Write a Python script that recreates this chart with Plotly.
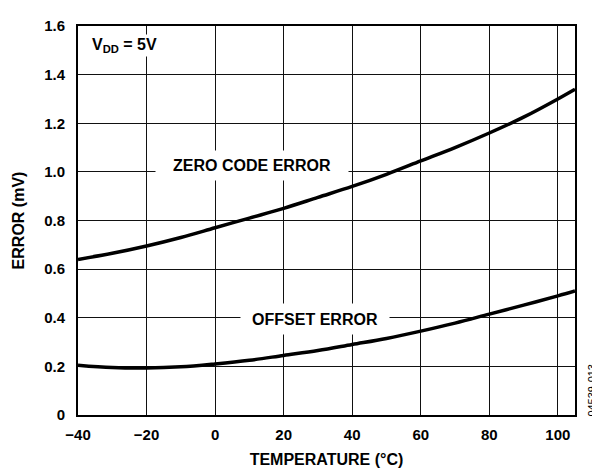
import plotly.graph_objects as go

temp = [-40, -30, -20, -10, 0, 10, 20, 30, 40, 50, 60, 70, 80, 90, 100, 105]
zero_code_error = [0.64, 0.665, 0.695, 0.73, 0.77, 0.81, 0.85, 0.895, 0.94, 0.99, 1.045, 1.10, 1.16, 1.225, 1.30, 1.34]
offset_error = [0.205, 0.195, 0.193, 0.198, 0.21, 0.225, 0.245, 0.265, 0.29, 0.315, 0.345, 0.378, 0.415, 0.452, 0.49, 0.51]

x_ticks = [-40, -20, 0, 20, 40, 60, 80, 100]
x_labels = ["\u221240", "\u221220", "0", "20", "40", "60", "80", "100"]
y_ticks = [0, 0.2, 0.4, 0.6, 0.8, 1.0, 1.2, 1.4, 1.6]
y_labels = ["0", "0.2", "0.4", "0.6", "0.8", "1.0", "1.2", "1.4", "1.6"]

font = "Liberation Sans, Arial, sans-serif"
tickfont = dict(size=15, family=font, color="black", weight="bold")

fig = go.Figure()
fig.add_trace(go.Scatter(x=temp, y=zero_code_error, mode="lines",
                         line=dict(color="black", width=3.5, shape="spline"),
                         showlegend=False))
fig.add_trace(go.Scatter(x=temp, y=offset_error, mode="lines",
                         line=dict(color="black", width=3.5, shape="spline"),
                         showlegend=False))

fig.update_layout(
    width=592, height=467,
    margin=dict(l=61, r=25, t=9, b=55),
    paper_bgcolor="white", plot_bgcolor="white",
    font=dict(family=font, color="black", size=15),
    xaxis=dict(range=[-40, 105], tickvals=x_ticks, ticktext=x_labels,
               showgrid=True, gridcolor="#111", gridwidth=1,
               showline=True, linecolor="black", linewidth=2, mirror=True,
               zeroline=False, ticks="outside", ticklen=5, tickcolor="rgba(0,0,0,0)",
               tickfont=tickfont,
               title=dict(text="<b>TEMPERATURE (°C)</b>", font=dict(size=16), standoff=12)),
    yaxis=dict(range=[0, 1.6], tickvals=y_ticks, ticktext=y_labels,
               showgrid=True, gridcolor="#111", gridwidth=1,
               showline=True, linecolor="black", linewidth=2, mirror=True,
               zeroline=False, ticks="outside", ticklen=8, tickcolor="rgba(0,0,0,0)",
               tickfont=tickfont,
               title=dict(text="<b>ERROR (mV)</b>", font=dict(size=16), standoff=16)),
)

fig.add_annotation(x=10.7, y=1.025, xref="x", yref="y", text="<b>ZERO CODE ERROR</b>",
                   showarrow=False, bgcolor="white", font=dict(size=16),
                   width=190, height=27)
fig.add_annotation(x=29, y=0.395, xref="x", yref="y", text="<b>OFFSET ERROR</b>",
                   showarrow=False, bgcolor="white", font=dict(size=16),
                   width=146, height=28)
fig.add_annotation(x=-36.5, y=1.52, xref="x", yref="y", xanchor="left",
                   text="<b>V<sub>DD</sub> = 5V</b>",
                   showarrow=False, bgcolor="white", font=dict(size=16), borderpad=1)
fig.add_annotation(x=1.034, y=0.065, xref="paper", yref="paper", text="04539-013",
                   showarrow=False, textangle=-90, font=dict(size=11),
                   xanchor="center", yanchor="middle")

fig.write_html("out.html")
